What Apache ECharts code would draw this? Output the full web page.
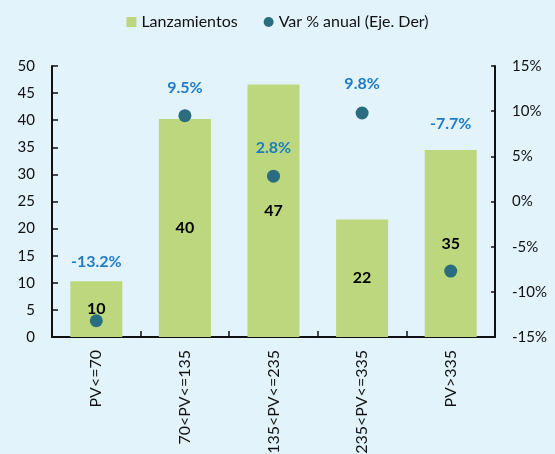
<!DOCTYPE html>
<html>
<head>
<meta charset="utf-8">
<script src="https://cdn.jsdelivr.net/npm/echarts@6/dist/echarts.min.js"></script>
<style>
	html, body { margin: 0; padding: 0; background: #e2f3fb; }
	#myChart { width: 555px; height: 454px; }
</style>
</head>
<body>
<div id="myChart"></div>
<script>
	// datos
	var categorias = ['PV<=70', '70<PV<=135', '135<PV<=235', '235<PV<=335', 'PV>335'];
	var lanzamientos = [10.3, 40.2, 46.6, 21.7, 34.5];
	var varAnual = [-13.2, 9.5, 2.8, 9.8, -7.7];
	var ticksIzq = [0, 50, 5];
	var ticksDer = [-15, 15, 5];

	// altura de cada etiqueta % sobre su punto (px)
	var subidaEtiqueta = [59, 28, 28, 29, 147];

	var fuente = 'Lato';
	var myChart = echarts.init(document.getElementById('myChart'));

	myChart.setOption({
		backgroundColor: '#e2f3fb',
		textStyle: { fontFamily: fuente },
		legend: {
			top: 9,
			left: 'center',
			itemWidth: 10,
			itemHeight: 10,
			itemGap: 26,
			textStyle: { fontSize: 16, color: '#111', fontFamily: fuente },
			data: [
				{ name: 'Lanzamientos', icon: 'rect' },
				{ name: 'Var % anual (Eje. Der)', icon: 'circle' }
			]
		},
		// las etiquetas del eje x se salen por abajo, como en el original
		grid: { left: 52, right: 60, top: 66, bottom: 117, containLabel: false, outerBoundsMode: 'none' },
		xAxis: {
			type: 'category',
			data: categorias,
			axisLine: { lineStyle: { color: '#111', width: 2 } },
			axisTick: { show: true, inside: true, length: 6, lineStyle: { color: '#111', width: 1.5 } },
			axisLabel: {
				rotate: 90,
				interval: 0,
				margin: 13,
				fontSize: 16,
				color: '#111',
				fontFamily: fuente
			}
		},
		yAxis: [{
			type: 'value',
			min: ticksIzq[0],
			max: ticksIzq[1],
			interval: ticksIzq[2],
			splitLine: { show: false },
			axisLine: { show: true, lineStyle: { color: '#111', width: 2 } },
			axisTick: { show: true, inside: true, length: 6, lineStyle: { color: '#111', width: 1.5 } },
			axisLabel: { margin: 17, fontSize: 15, color: '#111', fontFamily: fuente }
		}, {
			type: 'value',
			min: ticksDer[0],
			max: ticksDer[1],
			interval: ticksDer[2],
			splitLine: { show: false },
			axisLine: { show: true, lineStyle: { color: '#111', width: 2 } },
			axisTick: { show: true, inside: true, length: 4, lineStyle: { color: '#111', width: 1.5 } },
			axisLabel: { margin: 17, fontSize: 15, color: '#111', fontFamily: fuente, formatter: '{value}%' }
		}],
		series: [{
			name: 'Lanzamientos',
			type: 'bar',
			barWidth: 52,
			data: lanzamientos,
			itemStyle: { color: '#bdd77e' },
			label: {
				show: true,
				position: 'inside',
				color: '#000',
				fontWeight: 'bold',
				fontSize: 16,
				fontFamily: fuente,
				formatter: function(p) {
					return Math.round(p.value);
				}
			}
		}, {
			name: 'Var % anual (Eje. Der)',
			type: 'scatter',
			yAxisIndex: 1,
			symbolSize: 13,
			itemStyle: { color: '#2a6d7e', opacity: 1 },
			data: varAnual.map(function(v, i) {
				return {
					value: v,
					label: { offset: [0, -subidaEtiqueta[i]] }
				};
			}),
			label: {
				show: true,
				position: 'inside',
				color: '#1f7bc6',
				fontWeight: 'bold',
				fontSize: 16,
				fontFamily: fuente,
				formatter: function(p) {
					return p.value.toFixed(1) + '%';
				}
			}
		}]
	});
</script>
</body>
</html>
